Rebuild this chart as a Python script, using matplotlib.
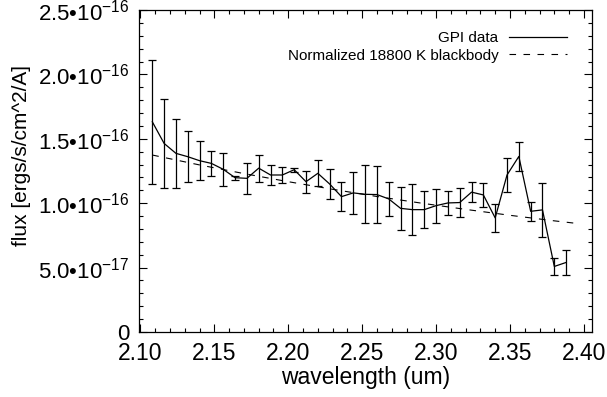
import matplotlib
matplotlib.use("Agg")
import matplotlib.pyplot as plt
from matplotlib.ticker import MultipleLocator, FixedLocator

plt.rcParams['font.family'] = ['Liberation Sans', 'DejaVu Sans']
plt.rcParams['mathtext.fontset'] = 'custom'
plt.rcParams['mathtext.rm'] = 'Liberation Sans'
plt.rcParams['mathtext.it'] = 'Liberation Sans'
plt.rcParams['mathtext.bf'] = 'Liberation Sans:bold'
plt.rcParams['mathtext.sf'] = 'Liberation Sans'

# wavelength (um)
wavelength = [2.108, 2.116, 2.124, 2.132, 2.140, 2.148, 2.156, 2.164, 2.172,
              2.180, 2.188, 2.196, 2.204, 2.212, 2.220, 2.228, 2.236, 2.244,
              2.252, 2.260, 2.268, 2.276, 2.284, 2.292, 2.300, 2.308, 2.316,
              2.324, 2.332, 2.340, 2.348, 2.356, 2.364, 2.372, 2.380, 2.388]
# flux in units of 1e-16 ergs/s/cm^2/A
flux = [1.632, 1.464, 1.387, 1.361, 1.330, 1.309, 1.263, 1.198, 1.193,
        1.272, 1.219, 1.219, 1.260, 1.167, 1.232, 1.149, 1.051, 1.080,
        1.069, 1.067, 1.033, 0.960, 0.950, 0.950, 0.981, 1.002, 1.005,
        1.086, 1.064, 0.886, 1.219, 1.363, 0.937, 0.948, 0.509, 0.540]
flux_err = [0.480, 0.345, 0.270, 0.200, 0.150, 0.100, 0.130, 0.015, 0.120,
            0.105, 0.080, 0.062, 0.015, 0.086, 0.100, 0.120, 0.110, 0.165,
            0.225, 0.220, 0.130, 0.165, 0.200, 0.146, 0.133, 0.092, 0.112,
            0.075, 0.095, 0.107, 0.130, 0.116, 0.074, 0.208, 0.067, 0.094]
# normalized 18800 K blackbody (units of 1e-16)
bb_wavelength = [2.108, 2.14, 2.17, 2.20, 2.23, 2.26, 2.29, 2.32, 2.35, 2.38, 2.396]
bb_flux = [1.374, 1.297, 1.230, 1.167, 1.108, 1.052, 1.0005, 0.952, 0.906, 0.863, 0.842]

scale = 1e-16
flux_v = [f * scale for f in flux]
err_v = [e * scale for e in flux_err]
bb_v = [f * scale for f in bb_flux]

ytick_vals = [0, 5.0e-17, 1.0e-16, 1.5e-16, 2.0e-16, 2.5e-16]
ytick_labels = ['0',
                '$\\mathregular{5.0\u2022 10^{-17}}$',
                '$\\mathregular{1.0\u2022 10^{-16}}$',
                '$\\mathregular{1.5\u2022 10^{-16}}$',
                '$\\mathregular{2.0\u2022 10^{-16}}$',
                '$\\mathregular{2.5\u2022 10^{-16}}$']
xtick_vals = [2.10, 2.15, 2.20, 2.25, 2.30, 2.35, 2.40]
xtick_labels = ['2.10', '2.15', '2.20', '2.25', '2.30', '2.35', '2.40']

fig = plt.figure(figsize=(6.07, 3.97), dpi=100)
ax = fig.add_axes([139/607, 1 - 332/397, (592-139)/607, (332-10)/397])

ax.plot(wavelength, flux_v, color='black', lw=0.9, label='GPI data')
ax.errorbar(wavelength, flux_v, yerr=err_v, fmt='none', ecolor='black',
            elinewidth=0.9, capsize=2.8, capthick=0.9)
ax.plot(bb_wavelength, bb_v, color='black', lw=0.8,
        linestyle=(0, (5.9, 6.7)), label='Normalized 18800 K blackbody')

ax.set_xlim(2.099, 2.4055)
ax.set_ylim(0, 2.5e-16)

ax.xaxis.set_major_locator(FixedLocator(xtick_vals))
ax.set_xticklabels(xtick_labels)
ax.xaxis.set_minor_locator(MultipleLocator(0.01))
ax.yaxis.set_major_locator(FixedLocator(ytick_vals))
ax.set_yticklabels(ytick_labels)
ax.yaxis.set_minor_locator(MultipleLocator(1e-17))

ax.tick_params(which='both', direction='in', top=True, right=True,
               width=0.8, color='black')
ax.tick_params(which='major', length=6)
ax.tick_params(which='minor', length=3)
ax.tick_params(axis='x', which='major', pad=7, labelsize=16.5)
ax.tick_params(axis='y', which='major', pad=7, labelsize=16)
for s in ax.spines.values():
    s.set_linewidth(0.9)

ax.set_xlabel('wavelength (um)', fontsize=16.5, labelpad=1)
ax.set_ylabel('flux [ergs/s/cm^2/A]', fontsize=15)
ax.yaxis.set_label_coords(-0.238, 0.548)

leg = ax.legend(loc='upper right', bbox_to_anchor=(0.945, 0.935),
                borderaxespad=0, borderpad=0, frameon=False, markerfirst=False,
                handlelength=3.8, handletextpad=0.7, labelspacing=0.25,
                fontsize=11)

fig.savefig('out.png', dpi=100)
